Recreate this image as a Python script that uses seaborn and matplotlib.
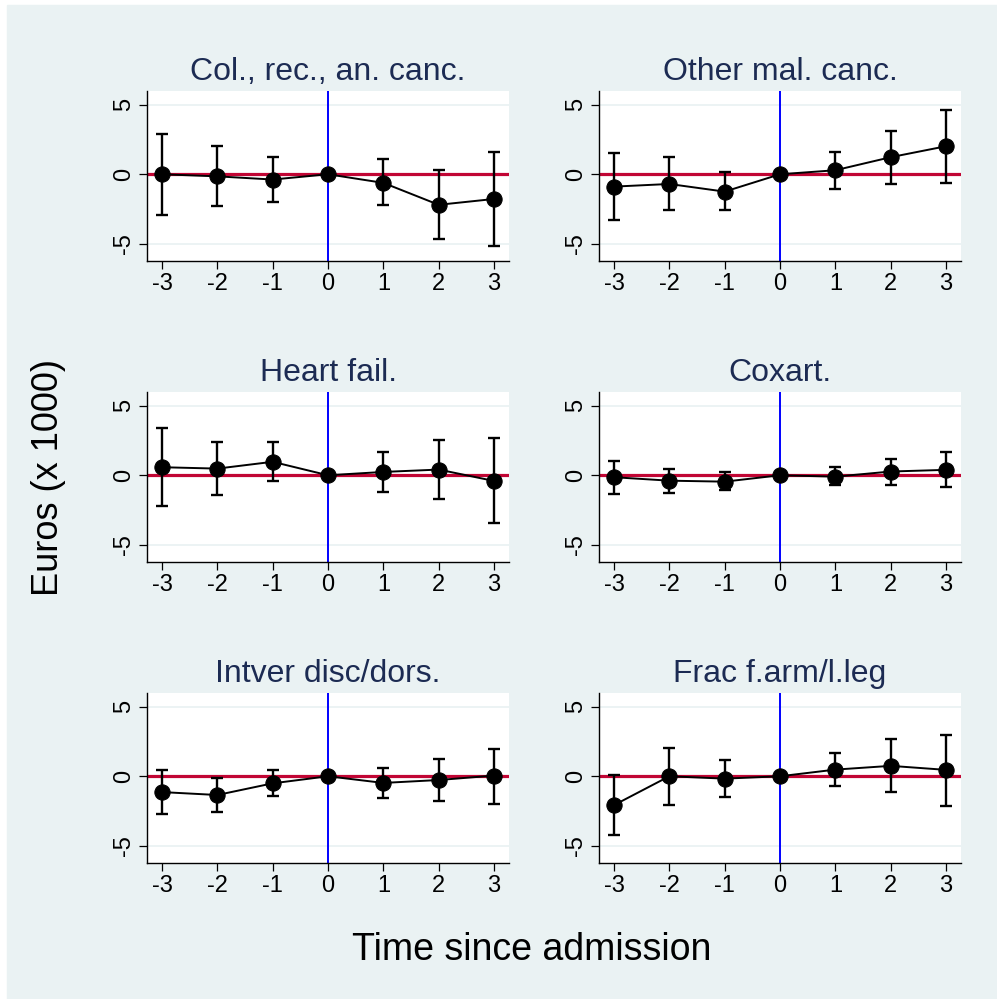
import matplotlib
matplotlib.use('Agg')
import matplotlib.pyplot as plt
import seaborn as sns
import pandas as pd
import numpy as np

# Estimativas por painel (Euros x 1000) e intervalos de confiança
tempo = [-3, -2, -1, 0, 1, 2, 3]
titulos = ['Col., rec., an. canc.', 'Other mal. canc.', 'Heart fail.',
           'Coxart.', 'Intver disc/dors.', 'Frac f.arm/l.leg']

coef_colrec = [0.0, -0.15, -0.38, 0.0, -0.62, -2.2, -1.78]
lo_colrec = [-2.9, -2.3, -2.0, 0.0, -2.2, -4.7, -5.17]
hi_colrec = [2.9, 2.07, 1.25, 0.0, 1.08, 0.31, 1.63]

coef_outmal = [-0.89, -0.7, -1.25, 0.0, 0.29, 1.23, 2.02]
lo_outmal = [-3.32, -2.57, -2.57, 0.0, -1.03, -0.67, -0.63]
hi_outmal = [1.56, 1.23, 0.17, 0.0, 1.61, 3.13, 4.64]

coef_heart = [0.58, 0.48, 0.97, 0.0, 0.24, 0.41, -0.41]
lo_heart = [-2.22, -1.43, -0.41, 0.0, -1.18, -1.74, -3.45]
hi_heart = [3.4, 2.39, 2.37, 0.0, 1.67, 2.51, 2.68]

coef_coxart = [-0.14, -0.39, -0.46, 0.0, -0.1, 0.27, 0.39]
lo_coxart = [-1.33, -1.3, -1.09, 0.0, -0.7, -0.68, -0.87]
hi_coxart = [1.06, 0.48, 0.22, 0.0, 0.56, 1.16, 1.67]

coef_intver = [-1.14, -1.35, -0.51, 0.0, -0.48, -0.27, 0.05]
lo_intver = [-2.73, -2.61, -1.43, 0.0, -1.57, -1.79, -2.0]
hi_intver = [0.48, -0.1, 0.48, 0.0, 0.63, 1.23, 2.0]

coef_frac = [-2.08, 0.0, -0.17, 0.0, 0.48, 0.75, 0.46]
lo_frac = [-4.23, -2.05, -1.5, 0.0, -0.72, -1.16, -2.15]
hi_frac = [0.07, 2.03, 1.16, 0.0, 1.69, 2.66, 3.0]

coefs = [coef_colrec, coef_outmal, coef_heart, coef_coxart, coef_intver, coef_frac]
los = [lo_colrec, lo_outmal, lo_heart, lo_coxart, lo_intver, lo_frac]
his = [hi_colrec, hi_outmal, hi_heart, hi_coxart, hi_intver, hi_frac]

fundo = '#EAF2F3'
azul_titulo = '#1c2b53'
vermelho = '#C10534'

sns.set_style('white')
plt.rcParams['font.family'] = ['Liberation Sans', 'DejaVu Sans']

W, H = 997, 999
fig = plt.figure(figsize=(W / 100, H / 100), dpi=100, facecolor='white')
fig.patches.append(plt.Rectangle((7 / W, 0), 1 - 7 / W, 1 - 5 / H,
                                 transform=fig.transFigure, color=fundo, zorder=-10))

col_left = [147, 599]
col_w = 362
row_top = [91, 392, 693]
row_h = 170

for i, titulo in enumerate(titulos):
    r, c = divmod(i, 2)
    ax = fig.add_axes([col_left[c] / W, 1 - (row_top[r] + row_h) / H, col_w / W, row_h / H])
    ax.set_facecolor('white')
    df = pd.DataFrame({'t': tempo, 'coef': coefs[i], 'lo': los[i], 'hi': his[i]})

    for yv in (-5, 5):
        ax.axhline(yv, color=fundo, lw=1.3, zorder=1)
    ax.axhline(0, color=vermelho, lw=2.3, zorder=2)
    ax.axvline(0, color='#0000ff', lw=1.4, zorder=2)

    ic = df[df['t'] != 0]
    ax.errorbar(ic['t'], ic['coef'], yerr=[ic['coef'] - ic['lo'], ic['hi'] - ic['coef']],
                fmt='none', ecolor='black', elinewidth=1.7, capsize=4.5, capthick=1.7, zorder=3)
    sns.lineplot(data=df, x='t', y='coef', ax=ax, color='black', lw=1.4,
                 marker='o', markersize=11, markeredgecolor='black', zorder=4)

    ax.set_xlim(-3.27, 3.27)
    ax.set_ylim(-6.25, 6.0)
    ax.set_xticks(tempo)
    ax.set_xticklabels([str(t) for t in tempo])
    ax.set_yticks([-5, 0, 5])
    ax.set_yticklabels(['-5', '0', '5'], rotation=90, va='center')
    ax.tick_params(axis='both', labelsize=17, length=5.8, width=0.9, color='black',
                   labelcolor='black', left=True, bottom=True, pad=3)
    for s in ('top', 'right'):
        ax.spines[s].set_visible(False)
    for s in ('left', 'bottom'):
        ax.spines[s].set_color('black')
        ax.spines[s].set_linewidth(1.0)
    ax.set_xlabel('')
    ax.set_ylabel('')
    ax.set_title(titulo, fontsize=23, color=azul_titulo, pad=8)

fig.text(49 / W, 1 - 477 / H, 'Euros (x 1000)', rotation=90, fontsize=26,
         ha='center', va='center', color='black')
fig.text(532 / W, 1 - 950 / H, 'Time since admission', fontsize=27,
         ha='center', va='center', color='black')

plt.savefig('out.png', dpi=100, facecolor='white')
